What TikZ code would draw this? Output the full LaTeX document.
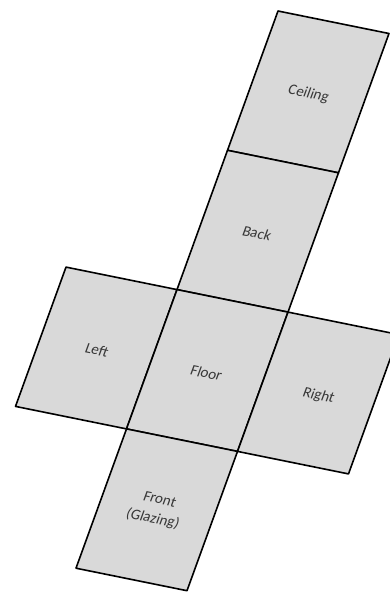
\documentclass[tikz,border=0pt]{standalone}
\usepackage{fontspec}
\setmainfont{Carlito}
\definecolor{facefill}{RGB}{217,217,217}
\definecolor{labelgray}{RGB}{55,55,55}
\tikzset{
  face/.style={draw=black, fill=facefill, line width=1.6pt, line join=round},
  facelabel/.style={text=labelgray, font=\fontsize{15}{20}\selectfont, align=center, inner sep=0pt, rotate=-11.5, xslant=0.15}
}
\begin{document}
\begin{tikzpicture}[x=1pt,y=-1pt]
\useasboundingbox (0,0) rectangle (390,592);
\clip (0,0) rectangle (390,592);
% grid points P(i,j) = (278,11) + i*(111,22.5) + j*(-50.5,139.3)
\coordinate (a00) at (278,11);
\coordinate (a10) at (389,33.5);
\coordinate (a01) at (227.5,150.3);
\coordinate (a11) at (338.5,172.8);
\coordinate (m2) at (66,267.1);
\coordinate (a02) at (177,289.6);
\coordinate (a12) at (288,312.1);
\coordinate (a22) at (399,334.6);
\coordinate (m3) at (15.5,406.4);
\coordinate (a03) at (126.5,428.9);
\coordinate (a13) at (237.5,451.4);
\coordinate (a23) at (348.5,473.9);
\coordinate (a04) at (76,568.2);
\coordinate (a14) at (187,590.7);
% faces
\draw[face] (a00) -- (a10) -- (a11) -- (a01) -- cycle;
\draw[face] (a01) -- (a11) -- (a12) -- (a02) -- cycle;
\draw[face] (m2) -- (a02) -- (a03) -- (m3) -- cycle;
\draw[face] (a02) -- (a12) -- (a13) -- (a03) -- cycle;
\draw[face] (a12) -- (a22) -- (a23) -- (a13) -- cycle;
\draw[face] (a03) -- (a13) -- (a14) -- (a04) -- cycle;
% labels
\node[facelabel] (ceiling) at (308.5,94) {Ceiling};
\node[facelabel] (back) at (257,233) {Back};
\node[facelabel] (left) at (97,350) {Left};
\node[facelabel] (floor) at (206.5,373) {Floor};
\node[facelabel] (right) at (318.5,396) {Right};
\node[facelabel] (front) at (156,510) {Front\\(Glazing)};
\end{tikzpicture}
\end{document}
